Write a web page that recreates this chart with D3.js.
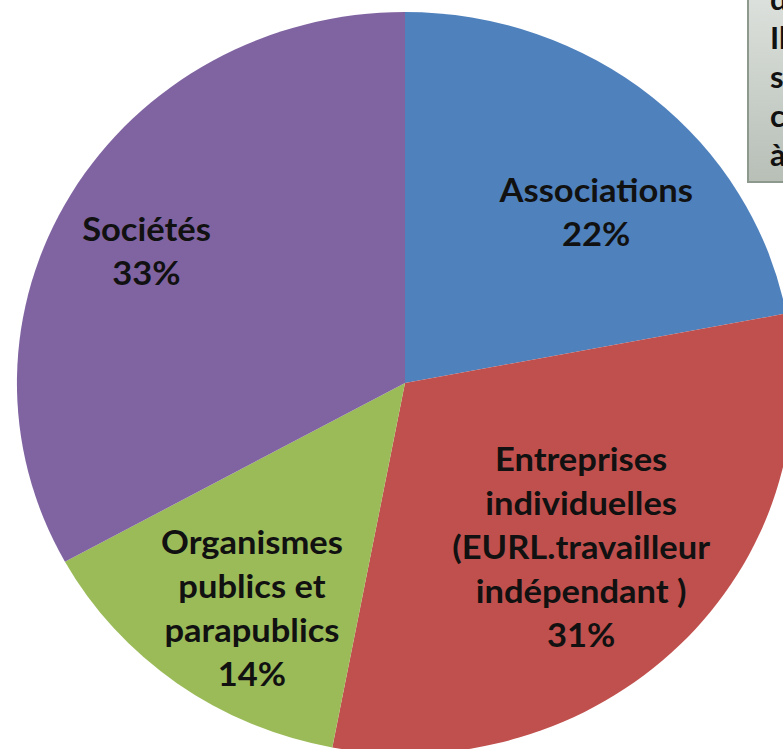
<!DOCTYPE html>
<html lang="fr">
<head>
    <meta charset="UTF-8">
    <title>Répartition des structures</title>
    <style>
        body {
            margin: 0;
            background-color: white;
            overflow: hidden;
        }
        .slice-label {
            font-family: Lato, "Open Sans", sans-serif;
            font-weight: bold;
            font-size: 33px;
            fill: #111;
        }
        .note-text {
            font-family: Lato, "Open Sans", sans-serif;
            font-weight: bold;
            font-size: 31px;
            fill: #111;
        }
    </style>
    <script src="https://d3js.org/d3.v7.min.js"></script>
</head>
<body>
    <div id="chart"></div>
    <script>
        // chart data
        const categories = ["Associations", "Entreprises individuelles", "Organismes publics et parapublics", "Sociétés"];
        const shares = [22, 31, 14, 33];
        const labelLines = [
            ["Associations"],
            ["Entreprises", "individuelles", "(EURL.travailleur", "indépendant )"],
            ["Organismes", "publics et", "parapublics"],
            ["Sociétés"]
        ];
        // visible part of the (cropped) note box at the top right
        const noteLines = ["d", "Il", "s", "c", "à"];

        const width = 783, height = 749;
        const cx = 405, cy = 383;
        const radius = 371;
        const stretchX = 1.046;   // the original picture is slightly stretched horizontally

        // label tweaks, like Excel's "best fit" placement
        const labelRadius = 0.68 * radius;
        const labelNudge = {
            "Associations": [22, 23],
            "Entreprises individuelles": [-10, -14],
            "Organismes publics et parapublics": [2, 21],
            "Sociétés": [-30, -4]
        };
        const lineHeight = 44;

        const color = d3.scaleOrdinal()
            .domain(categories)
            .range(["#4F81BD", "#C0504D", "#9BBB59", "#8064A2"]);

        const data = categories.map((c, i) => ({ name: c, value: shares[i], lines: labelLines[i] }));

        const svg = d3.select("#chart").append("svg")
            .attr("width", width)
            .attr("height", height);

        const g = svg.append("g")
            .attr("transform", `translate(${cx},${cy}) scale(${stretchX},1)`);

        const pie = d3.pie().sort(null).value(d => d.value);
        const arc = d3.arc().innerRadius(0).outerRadius(radius);
        const labelArc = d3.arc().innerRadius(labelRadius).outerRadius(labelRadius);

        const arcs = pie(data);

        g.selectAll("path.slice")
            .data(arcs)
            .enter().append("path")
            .attr("class", "slice")
            .attr("d", arc)
            .attr("fill", d => color(d.data.name));

        // labels: name lines + percentage
        const labels = g.selectAll("text.slice-label")
            .data(arcs)
            .enter().append("text")
            .attr("class", "slice-label")
            .attr("text-anchor", "middle")
            .attr("transform", d => {
                const c = labelArc.centroid(d);
                const n = labelNudge[d.data.name];
                return `translate(${c[0] + n[0]},${c[1] + n[1]})`;
            });

        labels.each(function(d) {
            const lines = d.data.lines.concat([d.data.value + "%"]);
            const n = lines.length;
            d3.select(this).selectAll("tspan")
                .data(lines)
                .enter().append("tspan")
                .attr("x", 0)
                .attr("y", (t, i) => (i - (n - 1) / 2) * lineHeight + 12)
                .text(t => t);
        });

        // note box, cut off by the right edge
        const defs = svg.append("defs");
        const grad = defs.append("linearGradient")
            .attr("id", "noteGrad")
            .attr("x1", 0).attr("y1", 0).attr("x2", 0).attr("y2", 1);
        grad.append("stop").attr("offset", "0%").attr("stop-color", "#dde1dd");
        grad.append("stop").attr("offset", "100%").attr("stop-color", "#b7bfb7");

        svg.append("rect")
            .attr("x", 748)
            .attr("y", -5)
            .attr("width", 60)
            .attr("height", 187)
            .attr("fill", "url(#noteGrad)")
            .attr("stroke", "#8e998e")
            .attr("stroke-width", 2);

        svg.append("g")
            .selectAll("text")
            .data(noteLines)
            .enter().append("text")
            .attr("class", "note-text")
            .attr("x", 770)
            .attr("y", (t, i) => 10 + i * 39)
            .text(t => t);
    </script>
</body>
</html>
